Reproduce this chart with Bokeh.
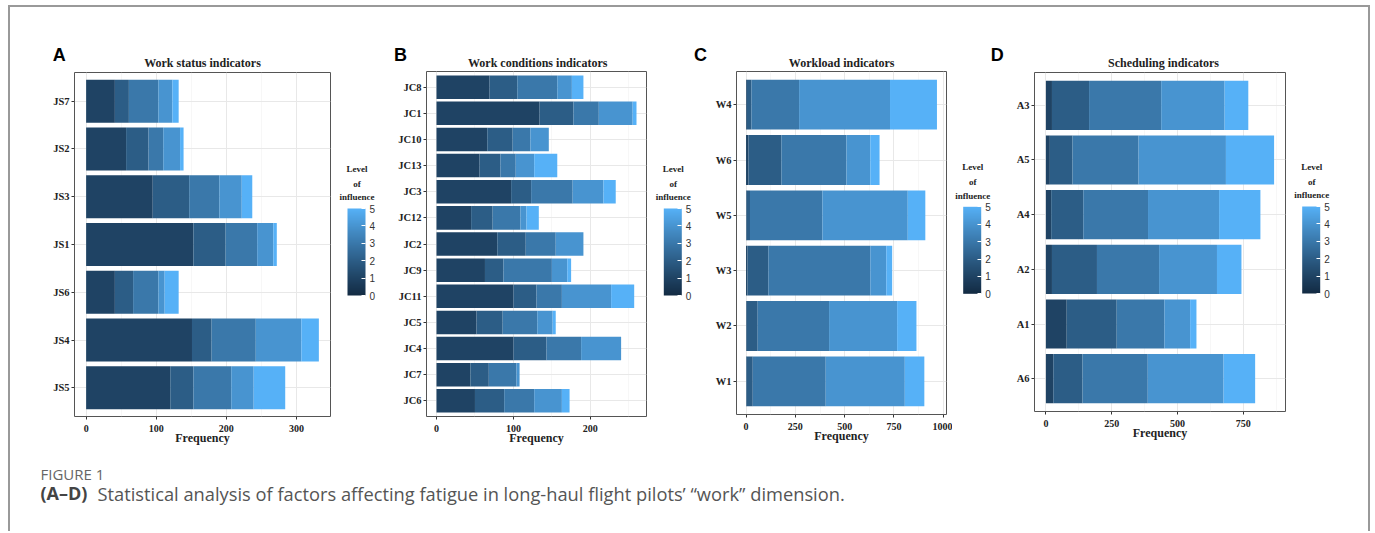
import numpy as np
from bokeh.plotting import figure
from bokeh.models import (Range1d, FixedTicker, ColumnDataSource, Label, ColorBar,
                          LinearColorMapper)
from bokeh.layouts import row, column
from bokeh.embed import file_html
from bokeh.resources import INLINE

# ---------------- data ----------------
A_cats = ["JS7", "JS2", "JS3", "JS1", "JS6", "JS4", "JS5"]
A_L1 = [41, 57, 95, 153, 41, 151, 120]
A_L2 = [20, 32, 52, 46, 26, 28, 33]
A_L3 = [42, 21, 43, 45, 36, 63, 54]
A_L4 = [20, 24, 32, 23, 9, 65, 32]
A_L5 = [9, 5, 15, 5, 20, 25, 45]
A_ticks = [0, 100, 200, 300]
A_minor = [50, 150, 250]

B_cats = ["JC8", "JC1", "JC10", "JC13", "JC3", "JC12", "JC2", "JC9", "JC11", "JC5", "JC4", "JC7", "JC6"]
B_L1 = [69, 134, 66, 56, 97, 45, 79, 63, 100, 52, 100, 44, 50]
B_L2 = [36, 44, 33, 27, 26, 28, 37, 24, 30, 34, 43, 24, 38]
B_L3 = [52, 33, 23, 20, 54, 36, 39, 63, 33, 45, 45, 36, 39]
B_L4 = [19, 44, 24, 24, 40, 8, 36, 20, 64, 20, 52, 4, 36]
B_L5 = [15, 5, 0, 30, 16, 16, 0, 5, 30, 4, 0, 0, 10]
B_ticks = [0, 100, 200]
B_minor = [50, 150, 250]

C_cats = ["W4", "W6", "W5", "W3", "W2", "W1"]
C_L1 = [4, 12, 3, 7, 3, 2]
C_L2 = [23, 167, 17, 106, 56, 32]
C_L3 = [242, 330, 367, 517, 362, 370]
C_L4 = [461, 121, 433, 81, 345, 401]
C_L5 = [238, 47, 89, 30, 98, 99]
C_ticks = [0, 250, 500, 750, 1000]
C_minor = [125, 375, 625, 875]

D_cats = ["A3", "A5", "A4", "A2", "A1", "A6"]
D_L1 = [23, 15, 20, 23, 79, 28]
D_L2 = [141, 86, 122, 171, 190, 111]
D_L3 = [274, 251, 246, 236, 181, 248]
D_L4 = [241, 332, 270, 220, 98, 288]
D_L5 = [90, 183, 157, 93, 24, 120]
D_ticks = [0, 250, 500, 750]
D_minor = [125, 375, 625, 875]

legend_ticks = [0, 1, 2, 3, 4, 5]
legend_title = ["Level", "of", "influence"]
letters = ["A", "B", "C", "D"]
titles = ["Work status indicators", "Work conditions indicators", "Workload indicators", "Scheduling indicators"]
caption_head = "FIGURE 1"
caption_bold = "(A\u2013D)"
caption_rest = "Statistical analysis of factors affecting fatigue in long-haul flight pilots\u2019 \u201cwork\u201d dimension."

# ---------------- colours (ggplot default gradient, Lab interpolation) ----------------
LOW, HIGH = "#132B43", "#56B1F7"
_M = np.array([[0.4124, 0.3576, 0.1805], [0.2126, 0.7152, 0.0722], [0.0193, 0.1192, 0.9505]])
_Mi = np.linalg.inv(_M)
_WN = _M @ np.ones(3)


def _to_lab(h):
    c = np.array([int(h[i:i + 2], 16) for i in (1, 3, 5)]) / 255.0
    lin = np.where(c <= 0.04045, c / 12.92, ((c + 0.055) / 1.055) ** 2.4)
    xyz = (_M @ lin) / _WN
    d = 6 / 29
    f = np.where(xyz > d ** 3, np.cbrt(xyz), xyz / (3 * d * d) + 4 / 29)
    return np.array([116 * f[1] - 16, 500 * (f[0] - f[1]), 200 * (f[1] - f[2])])


def _from_lab(lab):
    L, a, b = lab
    fy = (L + 16) / 116
    f = np.array([fy + a / 500, fy, fy - b / 200])
    d = 6 / 29
    xyz = np.where(f > d, f ** 3, 3 * d * d * (f - 4 / 29)) * _WN
    lin = np.clip(_Mi @ xyz, 0, 1)
    c = np.where(lin <= 0.0031308, 12.92 * lin, 1.055 * lin ** (1 / 2.4) - 0.055)
    c = np.clip(np.round(c * 255), 0, 255).astype(int)
    return "#%02x%02x%02x" % tuple(c)


_la, _lb = _to_lab(LOW), _to_lab(HIGH)


def grad(t):
    return _from_lab(_la + (_lb - _la) * t)


palette = [grad(t) for t in np.linspace(0, 1, 256)]
level_colors = [grad(k / 5) for k in range(1, 6)]

SERIF = "Liberation Serif"
SANS = "Liberation Sans"
ROW_H = 385
TXT = "#222222"


def blank(width, height, top=0, bottom=0):
    p = figure(width=width, height=height, x_range=Range1d(0, 1), y_range=Range1d(0, 1),
               output_backend="svg", toolbar_location=None, x_axis_type=None, y_axis_type=None,
               min_border_left=0, min_border_right=0, min_border_top=top, min_border_bottom=bottom,
               title=None)
    p.grid.visible = False
    p.outline_line_color = None
    p.background_fill_color = "white"
    p.border_fill_color = "white"
    return p


def make_panel(cats, levels, ticks, minor, width, left, right, top, fh):
    n = len(cats)
    ys = [n - i for i in range(n)]
    totals = [sum(v) for v in zip(*levels)]
    pad = 0.05 * max(totals)
    p = figure(width=width, height=ROW_H, title=None,
               x_range=Range1d(-pad, max(totals) + pad), y_range=Range1d(0.4, n + 0.6),
               output_backend="svg", toolbar_location=None,
               min_border_left=left, min_border_right=right,
               min_border_top=top, min_border_bottom=ROW_H - top - fh)
    p.background_fill_color = "white"
    p.border_fill_color = "white"
    p.outline_line_color = "#555555"
    p.outline_line_width = 1

    data = {"y": ys}
    names = []
    for k, lv in enumerate(levels):
        nm = "L%d" % (k + 1)
        data[nm] = lv
        names.append(nm)
    src = ColumnDataSource(data)
    p.hbar_stack(names, y="y", height=0.9, fill_color=level_colors, line_color=None, source=src)

    p.xaxis.ticker = FixedTicker(ticks=ticks, minor_ticks=minor)
    p.yaxis.ticker = FixedTicker(ticks=ys)
    p.yaxis.major_label_overrides = {y: c for y, c in zip(ys, cats)}
    for ax in (p.xaxis[0], p.yaxis[0]):
        ax.axis_line_color = None
        ax.major_tick_line_color = "#333333"
        ax.major_tick_out = 3
        ax.major_tick_in = 0
        ax.minor_tick_line_color = None
        ax.major_label_text_font = SERIF
        ax.major_label_text_font_style = "bold"
        ax.major_label_text_color = TXT
    p.xaxis.major_label_text_font_size = "10px"
    p.yaxis.major_label_text_font_size = "10.5px"
    p.xaxis.major_label_standoff = 4
    p.yaxis.major_label_standoff = 2
    p.xaxis.axis_label = "Frequency"
    p.xaxis.axis_label_text_font = SERIF
    p.xaxis.axis_label_text_font_style = "bold"
    p.xaxis.axis_label_text_font_size = "12px"
    p.xaxis.axis_label_text_color = TXT
    p.xaxis.axis_label_standoff = -4

    p.xgrid.grid_line_color = "#e8e8e8"
    p.xgrid.grid_line_width = 1
    p.xgrid.minor_grid_line_color = "#f1f1f1"
    p.xgrid.minor_grid_line_width = 0.6
    p.ygrid.grid_line_color = "#e8e8e8"
    p.ygrid.grid_line_width = 1
    return p


def make_legend(width, top, fh, bar_x, bar_bottom):
    # same top/bottom borders as its panel, so its frame matches the panel frame
    p = blank(width, ROW_H, top=top, bottom=ROW_H - top - fh)
    mapper = LinearColorMapper(palette=palette, low=legend_ticks[0], high=legend_ticks[-1])
    cb = ColorBar(color_mapper=mapper, ticker=FixedTicker(ticks=legend_ticks),
                  width=18, height=87, padding=0, margin=0,
                  location=(bar_x, bar_bottom),
                  bar_line_color=None, border_line_color=None, background_fill_color=None,
                  major_label_text_font=SANS, major_label_text_font_size="10px",
                  major_label_text_color="#333333",
                  major_tick_line_color="white", major_tick_in=4, major_tick_out=0,
                  minor_tick_line_color=None, label_standoff=4)
    p.add_layout(cb)
    for txt, dy in zip(legend_title, (39.5, 25, 11.3)):
        p.add_layout(Label(x=bar_x + 9.5, y=bar_bottom + 87 + dy, x_units="screen", y_units="screen",
                           text=txt, text_font=SERIF, text_font_style="bold", text_font_size="9px",
                           text_color=TXT, text_align="center", text_baseline="middle"))
    return p


# ---------------- header: panel letters and titles ----------------
header = blank(1358, 63)
for t, x in zip(letters, (48.7, 390, 690, 986.7)):
    header.add_layout(Label(x=x, y=15.5, x_units="screen", y_units="screen", text=t,
                            text_font=SANS, text_font_style="bold", text_font_size="18px",
                            text_color="black", text_align="center", text_baseline="middle"))
for t, x in zip(titles, (192, 527.2, 831.2, 1153)):
    header.add_layout(Label(x=x, y=7.5, x_units="screen", y_units="screen", text=t,
                            text_font=SERIF, text_font_style="bold", text_font_size="12px",
                            text_color=TXT, text_align="center", text_baseline="middle"))

# ---------------- panels (frame geometry per panel) ----------------
pA = make_panel(A_cats, [A_L1, A_L2, A_L3, A_L4, A_L5], A_ticks, A_minor, 326, 64, 6, 2, 344)
lgA = make_legend(49, 2, 344, 11, 121)
pB = make_panel(B_cats, [B_L1, B_L2, B_L3, B_L4, B_L5], B_ticks, B_minor, 267, 41, 6, 1, 345)
lgB = make_legend(40, 1, 345, 11.3, 121)
pC = make_panel(C_cats, [C_L1, C_L2, C_L3, C_L4, C_L5], C_ticks, C_minor, 260, 44, 6, 1, 343)
lgC = make_legend(53, 1, 343, 10.7, 120.7)
pD = make_panel(D_cats, [D_L1, D_L2, D_L3, D_L4, D_L5], D_ticks, D_minor, 286, 29, 6, 2, 339)
lgD = make_legend(77, 2, 339, 10.7, 118)

# ---------------- caption ----------------
CAP_H = 76
cap = blank(1358, CAP_H)
cap.add_layout(Label(x=30, y=CAP_H - 18.5, x_units="screen", y_units="screen", text=caption_head,
                     text_font="Open Sans", text_font_size="15px", text_color="#666666",
                     text_baseline="middle"))
cap.add_layout(Label(x=30, y=CAP_H - 37.5, x_units="screen", y_units="screen", text=caption_bold,
                     text_font="Open Sans", text_font_style="bold", text_font_size="18px",
                     text_color="#444444", text_baseline="middle"))
cap.add_layout(Label(x=87, y=CAP_H - 37.5, x_units="screen", y_units="screen", text=caption_rest,
                     text_font="Open Sans", text_font_size="18.3px", text_color="#555555",
                     text_baseline="middle"))

panels = row(row(pA, lgA, spacing=0), row(pB, lgB, spacing=0),
             row(pC, lgC, spacing=0), row(pD, lgD, spacing=0), spacing=0)
layout = column(header, panels, cap, spacing=0,
                styles={"margin-left": "8px", "margin-top": "5px",
                        "border-top": "2px solid #999999", "border-left": "2px solid #999999",
                        "border-right": "2px solid #999999"})

open("out.html", "w").write(file_html(layout, INLINE))
